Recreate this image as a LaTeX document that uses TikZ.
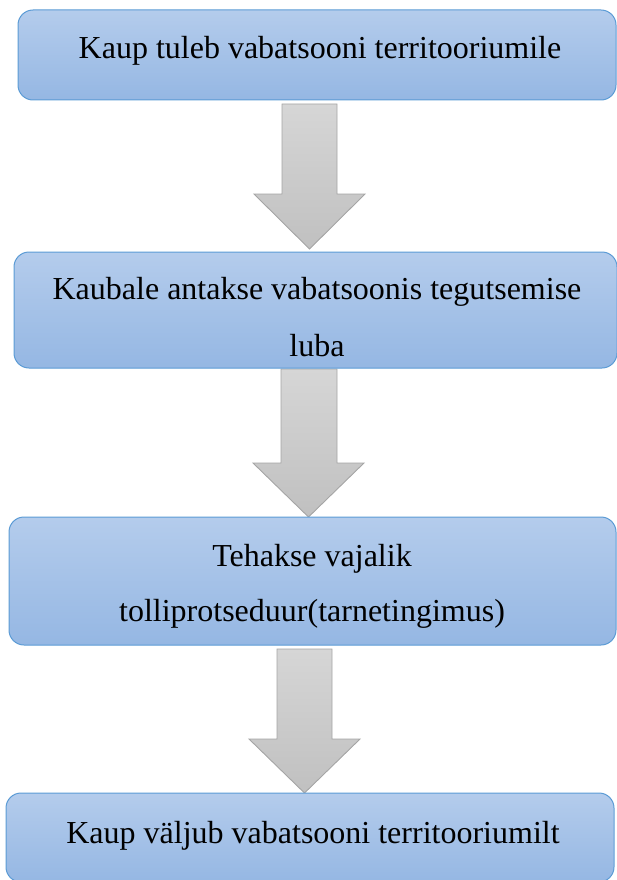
\documentclass[tikz,border=0pt]{standalone}
\usepackage{fontspec}
\setmainfont{Liberation Serif}
\definecolor{boxtop}{HTML}{B4CCEC}
\definecolor{boxbot}{HTML}{95B7E3}
\definecolor{boxline}{HTML}{5B9BD5}
\definecolor{arrtop}{HTML}{D6D6D6}
\definecolor{arrbot}{HTML}{C0C0C0}
\definecolor{arrline}{HTML}{A5A5A5}
\begin{document}
\begin{tikzpicture}[x=1pt,y=-1pt,
  stepbox/.style={draw=boxline, line width=1pt, rounded corners=15pt,
    top color=boxtop, bottom color=boxbot, inner sep=0pt},
  blockarrow/.style={draw=arrline, line width=0.9pt, top color=arrtop, bottom color=arrbot},
  label/.style={anchor=base, inner sep=0pt, font=\fontsize{32}{38}\selectfont}]
\useasboundingbox (0,0) rectangle (617,880);
\clip (0,0) rectangle (617,880);
% block arrows
\shade[blockarrow] (282,104) -- (337,104) -- (337,194) -- (365,194) -- (309.5,249) -- (254,194) -- (282,194) -- cycle;
\shade[blockarrow] (281,369) -- (337,369) -- (337,463) -- (364,463) -- (308.5,517) -- (253,463) -- (281,463) -- cycle;
\shade[blockarrow] (277,649) -- (332,649) -- (332,739) -- (360,739) -- (304.5,793) -- (249,739) -- (277,739) -- cycle;
% boxes
\node[stepbox, minimum width=598pt, minimum height=90pt] (b1) at (317,55) {};
\node[stepbox, minimum width=603pt, minimum height=116pt] (b2) at (315.5,310) {};
\node[stepbox, minimum width=607pt, minimum height=128pt] (b3) at (312.5,581) {};
\node[stepbox, minimum width=608pt, minimum height=89pt] (b4) at (310,837.5) {};
% texts
\node[label] (t1) at (320,59) {Kaup tuleb vabatsooni territooriumile};
\node[label] (t2a) at (317,299) {Kaubale antakse vabatsoonis tegutsemise};
\node[label] (t2b) at (317,356) {luba};
\node[label] (t3a) at (312,566) {Tehakse vajalik};
\node[label] (t3b) at (312,621) {tolliprotseduur(tarnetingimus)};
\node[label] (t4) at (313,843) {Kaup väljub vabatsooni territooriumilt};
\end{tikzpicture}
\end{document}
